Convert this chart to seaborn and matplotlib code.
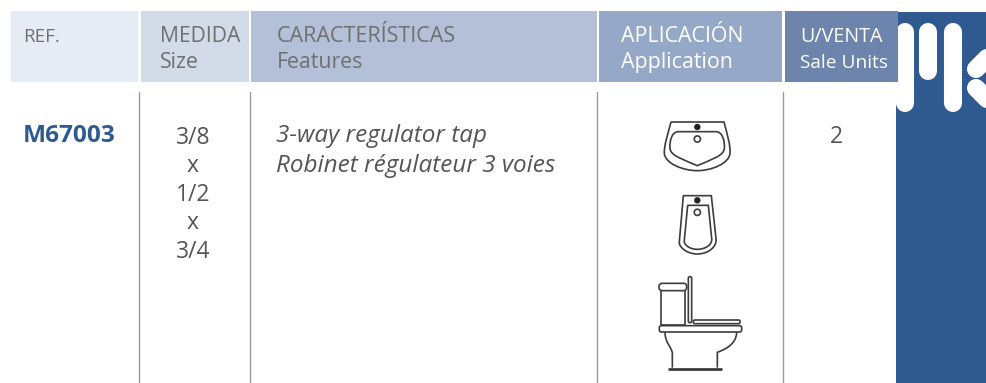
import matplotlib
matplotlib.use('Agg')
import matplotlib.pyplot as plt
from matplotlib.path import Path
from matplotlib.patches import PathPatch, Circle, FancyBboxPatch
import seaborn as sns

# table content
ref_code = 'M67003'
head_es = ['REF.', 'MEDIDA', 'CARACTERÍSTICAS', 'APLICACIÓN', 'U/VENTA']
head_en = ['', 'Size', 'Features', 'Application', 'Sale Units']
sizes = ['3/8', 'x', '1/2', 'x', '3/4']
features = ['3-way regulator tap', 'Robinet régulateur 3 voies']
units = '2'

# layout, in image pixels
head_left = [11, 141, 251, 599, 785]
head_right = [138, 249, 597, 782, 898]
head_colors = ['#e6ecf5', '#d3dbe8', '#b3c0d8', '#95a8c8', '#6d84ac']
head_text_x = [23, 159.5, 277, 621, 800]
head_text_colors = ['#6f6f6f', '#6f6f6f', '#6f6f6f', '#ffffff', '#ffffff']
head_es_size = [13.5, 15.2, 15.5, 15.4, 14.2]
head_en_size = [13, 15.3, 15.3, 15.4, 13.8]
size_y = [144, 172, 201, 229, 258]
divider_x = [139, 250, 597, 783]
blue = '#2e5a8f'
font = 'Open Sans'

sns.set_theme(style='white')
plt.rcParams['font.family'] = [font, 'DejaVu Sans']

fig = plt.figure(figsize=(9.87, 3.83), dpi=100)
ax = fig.add_axes([0, 0, 1, 1])
ax.set_xlim(0, 987)
ax.set_ylim(383, 0)
ax.axis('off')

# logo panel
ax.barh(197.5, 91, left=896, height=371, color=blue, linewidth=0, zorder=1)
for x, y0, y1 in [(905, 32, 103), (928, 32, 71), (953, 32, 103)]:
    ax.plot([x, x], [y0, y1], color='white', lw=13, solid_capstyle='round', zorder=2)
ax.plot([976, 1005], [69, 40], color='white', lw=13, solid_capstyle='round', zorder=2)
ax.plot([976, 1005], [88, 117], color='white', lw=13, solid_capstyle='round', zorder=2)

# header cells
for i in range(len(head_es)):
    ax.barh(46.5, head_right[i] - head_left[i], left=head_left[i], height=71,
            color=head_colors[i], linewidth=0, zorder=3)
    ax.text(head_text_x[i], 42, head_es[i], color=head_text_colors[i], fontsize=head_es_size[i],
            va='baseline', zorder=4)
    ax.text(head_text_x[i], 68, head_en[i], color=head_text_colors[i], fontsize=head_en_size[i],
            va='baseline', zorder=4)

for x in divider_x:
    ax.plot([x, x], [92, 383], color='#9a9a9a', lw=1.0, zorder=2)

# body
ax.text(23, 142, ref_code, color=blue, fontsize=17.6, fontweight='bold', va='baseline')
for s, y in zip(sizes, size_y):
    ax.text(193, y, s, color='#555555', fontsize=16.5, ha='center', va='baseline')
ax.text(276, 142, features[0], color='#555555', fontsize=17.5, style='italic', va='baseline')
ax.text(276, 172, features[1], color='#555555', fontsize=17.5, style='italic', va='baseline')
ax.text(836, 143, units, color='#555555', fontsize=16.5, ha='center', va='baseline')

# application icons, drawn from zoomed outline points
LINE = '#3c3c3c'


def to_px(p, ox, oy):
    return (ox + p[0] / 3, oy + p[1] / 3)


def outline(cmds, ox, oy, lw=1.2):
    verts, codes = [], []
    for c in cmds:
        if c[0] == 'M':
            verts.append(to_px(c[1], ox, oy))
            codes.append(Path.MOVETO)
        elif c[0] == 'L':
            verts.append(to_px(c[1], ox, oy))
            codes.append(Path.LINETO)
        else:
            verts += [to_px(q, ox, oy) for q in c[1:]]
            codes += [Path.CURVE4] * 3
    ax.add_patch(PathPatch(Path(verts, codes), fc='none', ec=LINE, lw=lw, zorder=3))


def roundbox(x0, y0, x1, y1, ox, oy, r=3, lw=1.2):
    a = to_px((x0, y0), ox, oy)
    b = to_px((x1, y1), ox, oy)
    ax.add_patch(FancyBboxPatch((a[0] + r, a[1] + r), b[0] - a[0] - 2 * r, b[1] - a[1] - 2 * r,
                                boxstyle='round,pad=%s,rounding_size=%s' % (r, r),
                                fc='white', ec=LINE, lw=lw, zorder=3))


def tap_holes(x, y_tap, y_drain, ox, oy):
    ax.add_patch(Circle(to_px((x, y_tap), ox, oy), 3.2, fc='#222222', ec='none', zorder=3))
    ax.add_patch(Circle(to_px((x, y_drain), ox, oy), 3.1, fc='none', ec=LINE, lw=1.2, zorder=3))


# washbasin
outline([('M', (93, 36)), ('L', (252, 36)),
         ('C', (262, 75), (272, 105), (270, 130)),
         ('C', (268, 160), (215, 182), (172, 182)),
         ('C', (128, 182), (75, 160), (73, 130)),
         ('C', (72, 105), (83, 75), (93, 36))], 640, 110)
outline([('M', (115, 65)), ('L', (228, 65)),
         ('C', (248, 65), (255, 95), (253, 115)),
         ('C', (252, 138), (210, 150), (172, 167)),
         ('C', (134, 150), (91, 138), (90, 115)),
         ('C', (88, 95), (95, 65), (115, 65))], 640, 110)
tap_holes(172, 51, 87, 640, 110)

# bidet
outline([('M', (130, 257)), ('L', (214, 257)), ('L', (228, 385)),
         ('C', (232, 410), (205, 432), (172, 432)),
         ('C', (140, 432), (115, 410), (118, 395)),
         ('L', (130, 257))], 640, 110)
outline([('M', (143, 286)), ('L', (205, 286)), ('L', (215, 385)),
         ('C', (218, 405), (195, 418), (172, 418)),
         ('C', (150, 418), (130, 405), (133, 390)),
         ('L', (143, 286))], 640, 110)
tap_holes(172, 271, 307, 640, 110)

# toilet
outline([('M', (62, 62)), ('L', (62, 165)), ('L', (135, 165)), ('L', (135, 62))], 640, 270)
roundbox(57, 40, 140, 62, 640, 270, r=3)
roundbox(145, 20, 155, 158, 640, 270, r=1.5)
roundbox(160, 150, 300, 161, 640, 270, r=1.5)
roundbox(58, 167, 305, 186, 640, 270, r=2)
outline([('M', (75, 186)), ('C', (75, 220), (95, 230), (97, 250)), ('L', (97, 293))], 640, 270)
outline([('M', (290, 186)), ('C', (290, 225), (250, 240), (232, 247)), ('L', (232, 293))], 640, 270)
outline([('M', (85, 296)), ('L', (245, 296))], 640, 270, lw=2)

fig.savefig('out.png', dpi=100)
